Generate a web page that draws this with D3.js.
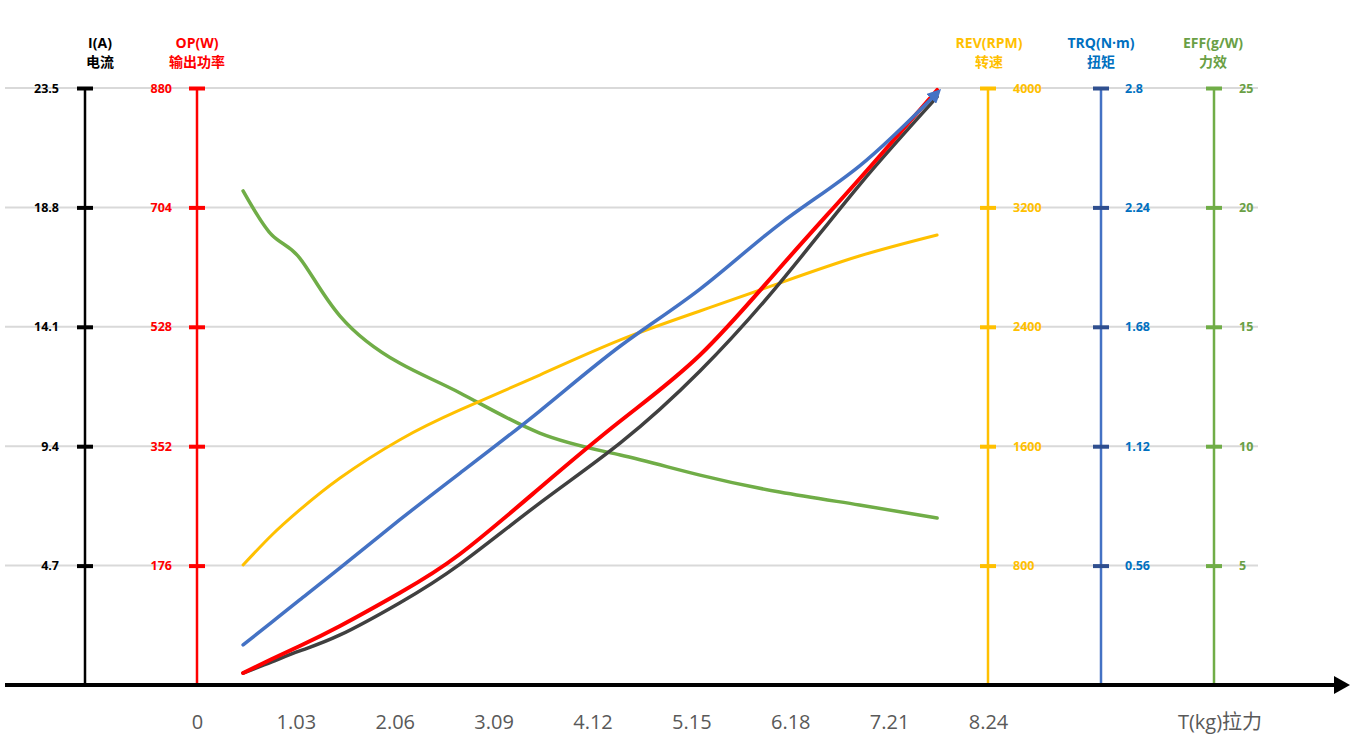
<!DOCTYPE html>
<html>
<head>
<meta charset="utf-8">
<script src="https://cdn.jsdelivr.net/npm/d3@7"></script>
<style>
  body { margin: 0; background: #fff; }
  #chart { width: 1363px; height: 737px; }
  text { font-family: "Open Sans", "Noto Sans CJK SC", sans-serif; }
</style>
</head>
<body>
<div id="chart"></div>
<script>
// pull (kg) at each measuring point
const pull = [0.48, 0.78, 1.07, 1.49, 2.11, 2.74, 3.57, 4.41, 5.24, 6.07, 6.90, 7.71];

// series values
const current = [0.47, 0.91, 1.34, 1.97, 3.23, 4.76, 7.16, 9.53, 12.36, 15.82, 19.68, 23.15];
const power = [17.7, 38.3, 57.5, 87.0, 135.6, 193.1, 290.4, 389.1, 486.4, 614.7, 745.9, 877.1];
const rpm = [804, 1005, 1173, 1387, 1642, 1843, 2077, 2312, 2506, 2693, 2874, 3015];
const torque = [0.188, 0.295, 0.399, 0.549, 0.774, 0.994, 1.285, 1.590, 1.857, 2.162, 2.434, 2.777];
const efficiency = [20.69, 18.84, 17.88, 15.45, 13.48, 12.23, 10.55, 9.63, 8.79, 8.08, 7.54, 6.99];

// tick labels
const xTicks = [0, 1.03, 2.06, 3.09, 4.12, 5.15, 6.18, 7.21, 8.24];
const iTicks = [4.7, 9.4, 14.1, 18.8, 23.5];
const opTicks = [176, 352, 528, 704, 880];
const revTicks = [800, 1600, 2400, 3200, 4000];
const trqTicks = [0.56, 1.12, 1.68, 2.24, 2.8];
const effTicks = [5, 10, 15, 20, 25];

const svg = d3.select("#chart").append("svg")
    .attr("width", 1363).attr("height", 737);

const yTop = 88, yBottom = 685;

const x = d3.scaleLinear().domain([0, 8.24]).range([197, 988]);

const axes = [
  {key: "I", title: "I(A)", sub: "电流", max: 23.5, ticks: iTicks, values: current,
   at: 85, side: "left", pad: 18, titleX: 100,
   color: "#000", tickColor: "#000", labelColor: "#000", lineColor: "#404040", lw: 3.5},
  {key: "OP", title: "OP(W)", sub: "输出功率", max: 880, ticks: opTicks, values: power,
   at: 197, side: "left", pad: 17, titleX: 197,
   color: "#ff0000", tickColor: "#ff0000", labelColor: "#ff0000", lineColor: "#ff0000", lw: 4},
  {key: "REV", title: "REV(RPM)", sub: "转速", max: 4000, ticks: revTicks, values: rpm,
   at: 988, side: "right", pad: 17, titleX: 989,
   color: "#ffc000", tickColor: "#ffc000", labelColor: "#ffc000", lineColor: "#ffc000", lw: 3},
  {key: "TRQ", title: "TRQ(N·m)", sub: "扭矩", max: 2.8, ticks: trqTicks, values: torque,
   at: 1101, side: "right", pad: 16, titleX: 1101,
   color: "#4472c4", tickColor: "#2f4f8f", labelColor: "#0070c0", lineColor: "#4472c4", lw: 3.5},
  {key: "EFF", title: "EFF(g/W)", sub: "力效", max: 25, ticks: effTicks, values: efficiency,
   at: 1214, side: "right", pad: 17, titleX: 1213,
   color: "#70ad47", tickColor: "#70ad47", labelColor: "#6a9f45", lineColor: "#70ad47", lw: 3.5}
];
axes.forEach(a => a.y = d3.scaleLinear().domain([0, a.max]).range([yBottom, yTop]));

// gridlines from the current axis
svg.append("g").selectAll("line")
  .data(iTicks)
  .join("line")
    .attr("x1", 5).attr("x2", 1258)
    .attr("y1", d => axes[0].y(d)).attr("y2", d => axes[0].y(d))
    .attr("stroke", "#d9d9d9").attr("stroke-width", 2);

// vertical axes
axes.forEach(a => {
  svg.append("line")
    .attr("x1", a.at).attr("x2", a.at)
    .attr("y1", yTop).attr("y2", yBottom)
    .attr("stroke", a.color).attr("stroke-width", 2.5);

  const ax = (a.side === "left" ? d3.axisLeft(a.y) : d3.axisRight(a.y))
    .tickValues(a.ticks)
    .tickSize(16)
    .tickPadding(a.pad)
    .tickFormat(d => d);

  const g = svg.append("g")
    .attr("transform", `translate(${a.side === "left" ? a.at + 8 : a.at - 8},0)`)
    .call(ax);
  g.select(".domain").remove();
  g.selectAll(".tick line").attr("stroke", a.tickColor).attr("stroke-width", 4);
  g.selectAll(".tick text")
    .attr("fill", a.labelColor)
    .style("font-size", "12.5px").style("font-weight", "bold");

  const t = svg.append("text")
    .attr("x", a.titleX).attr("text-anchor", "middle")
    .attr("fill", a.labelColor)
    .style("font-size", "14px").style("font-weight", "bold");
  t.append("tspan").attr("x", a.titleX).attr("y", 48).text(a.title);
  t.append("tspan").attr("x", a.titleX).attr("y", 67).text(a.sub);
});

// x axis with arrow
svg.append("line")
  .attr("x1", 5).attr("x2", 1338)
  .attr("y1", yBottom).attr("y2", yBottom)
  .attr("stroke", "#000").attr("stroke-width", 4);
svg.append("path")
  .attr("d", `M1334,${yBottom - 9}L1350,${yBottom}L1334,${yBottom + 9}Z`)
  .attr("fill", "#000");

const xg = svg.append("g")
  .attr("transform", `translate(0,${yBottom + 27})`)
  .call(d3.axisBottom(x).tickValues(xTicks).tickSize(0).tickFormat(d => d));
xg.select(".domain").remove();
xg.selectAll(".tick text")
  .attr("fill", "#595959")
  .style("font-size", "20px");

svg.append("text")
  .attr("x", 1220).attr("y", 729)
  .attr("text-anchor", "middle")
  .attr("fill", "#595959")
  .style("font-size", "20px")
  .text("T(kg)拉力");

// arrow marker for the torque line
svg.append("defs").append("marker")
  .attr("id", "arrow")
  .attr("viewBox", "0 0 10 10")
  .attr("refX", 6).attr("refY", 5)
  .attr("markerWidth", 4).attr("markerHeight", 4)
  .attr("orient", "auto")
  .append("path").attr("d", "M0,0L10,5L0,10Z").attr("fill", "#4472c4");

// data lines
const order = ["EFF", "REV", "I", "OP", "TRQ"];
order.forEach(k => {
  const a = axes.find(d => d.key === k);
  const line = d3.line()
    .x((d, i) => x(pull[i]))
    .y(d => a.y(d))
    .curve(d3.curveNatural);
  svg.append("path")
    .datum(a.values)
    .attr("fill", "none")
    .attr("stroke", a.lineColor)
    .attr("stroke-width", a.lw)
    .attr("stroke-linecap", "round")
    .attr("marker-end", k === "TRQ" ? "url(#arrow)" : null)
    .attr("d", line);
});
</script>
</body>
</html>
